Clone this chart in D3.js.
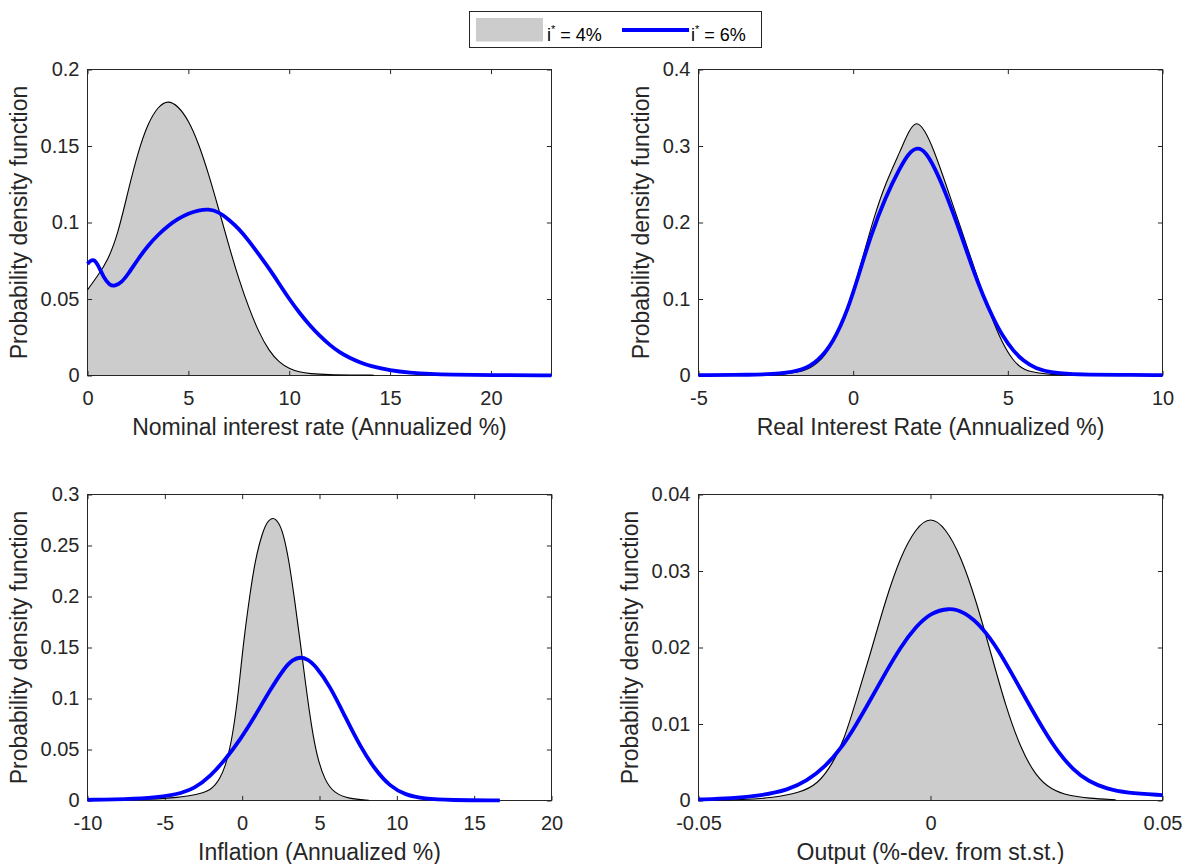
<!DOCTYPE html>
<html>
<head>
<meta charset="utf-8">
<script src="https://cdn.jsdelivr.net/npm/d3@7"></script>
<style>
  html, body { margin: 0; padding: 0; background: #fff; }
  svg { display: block; font-family: "Liberation Sans", Arial, Helvetica, sans-serif; }
</style>
</head>
<body>
<svg id="chart" width="1189" height="864"></svg>
<script>
// ---- Series labels ----
const seriesNames = ["4%", "6%"];

// ---- Nominal interest rate ----
const nomXLim = [0, 23];
const nomYLim = [0, 0.2];
const nomXTicks = [0, 5, 10, 15, 20];
const nomYTicks = [0, 0.05, 0.1, 0.15, 0.2];
const nomBaseX = [0, 0.5, 1.0, 1.5, 2.0, 2.5, 3.0, 3.5, 4.0, 4.5, 5.0, 5.5, 6.0, 6.5, 7.0, 7.5, 8.0, 8.5, 9.0, 9.5, 10.0, 10.5, 11.0, 12.0, 13.0, 14.2];
const nomBaseY = [0.056, 0.065, 0.075, 0.092, 0.120, 0.146, 0.165, 0.176, 0.180, 0.176, 0.167, 0.152, 0.132, 0.109, 0.085, 0.063, 0.044, 0.028, 0.016, 0.0085, 0.0045, 0.0022, 0.0012, 0.0005, 0.0003, 0.0002];
const nomAltX = [0, 0.15, 0.3, 0.5, 0.8, 1.1, 1.35, 1.7, 2.0, 2.5, 3.0, 3.5, 4.0, 4.5, 5.0, 5.5, 6.0, 6.5, 7.0, 7.5, 8.0, 8.5, 9.0, 9.5, 10.0, 10.5, 11.0, 11.5, 12.0, 12.5, 13.0, 13.5, 14.0, 15.0, 16.0, 17.0, 18.0, 20.0, 23.0];
const nomAltY = [0.073, 0.075, 0.076, 0.073, 0.064, 0.059, 0.0583, 0.061, 0.066, 0.076, 0.085, 0.092, 0.098, 0.1025, 0.106, 0.108, 0.1088, 0.107, 0.102, 0.096, 0.088, 0.079, 0.070, 0.060, 0.050, 0.041, 0.033, 0.026, 0.020, 0.015, 0.0115, 0.0085, 0.0062, 0.0033, 0.0018, 0.001, 0.0006, 0.0002, 0.0001];

// ---- Real interest rate ----
const realXLim = [-5, 10];
const realYLim = [0, 0.4];
const realXTicks = [-5, 0, 5, 10];
const realYTicks = [0, 0.1, 0.2, 0.3, 0.4];
const realBaseX = [-5, -3.5, -2.8, -2.35, -2.0, -1.62, -1.4, -1.14, -0.9, -0.65, -0.29, 0.08, 0.32, 0.68, 1.05, 1.53, 1.8, 2.04, 2.3, 2.6, 2.99, 3.35, 3.72, 4.08, 4.45, 4.81, 5.18, 5.45, 5.66, 6.0, 6.39, 7.0, 8.0, 10.0];
const realBaseY = [0.0001, 0.0003, 0.0007, 0.0013, 0.003, 0.0057, 0.0095, 0.0165, 0.027, 0.043, 0.077, 0.121, 0.156, 0.208, 0.252, 0.294, 0.320, 0.333, 0.322, 0.296, 0.251, 0.208, 0.164, 0.121, 0.078, 0.043, 0.0187, 0.0095, 0.0057, 0.003, 0.0013, 0.0005, 0.0002, 0.0001];
const realAltX = [-5, -3.3, -2.35, -1.62, -1.14, -0.65, -0.17, 0.2, 0.56, 1.05, 1.53, 1.8, 2.08, 2.35, 2.63, 3.0, 3.48, 3.84, 4.21, 4.5, 4.85, 5.18, 5.5, 5.9, 6.39, 7.0, 7.6, 8.5, 10.0];
const realAltY = [0.0004, 0.0009, 0.002, 0.007, 0.0187, 0.0426, 0.086, 0.134, 0.182, 0.234, 0.273, 0.291, 0.299, 0.292, 0.272, 0.238, 0.185, 0.142, 0.103, 0.077, 0.050, 0.032, 0.019, 0.009, 0.004, 0.0018, 0.0012, 0.0008, 0.0005];

// ---- Inflation ----
const infXLim = [-10, 20];
const infYLim = [0, 0.3];
const infXTicks = [-10, -5, 0, 5, 10, 15, 20];
const infYTicks = [0, 0.05, 0.1, 0.15, 0.2, 0.25, 0.3];
const infBaseX = [-10, -8, -6, -5, -4.25, -3.5, -3.0, -2.5, -2.07, -1.75, -1.46, -1.1, -0.73, -0.37, -0.13, 0.11, 0.48, 0.84, 1.33, 1.65, 2.0, 2.35, 2.66, 3.02, 3.39, 3.75, 4.12, 4.48, 4.84, 5.33, 5.94, 6.9, 8.19];
const infBaseY = [0.0003, 0.0007, 0.0013, 0.002, 0.003, 0.0045, 0.0058, 0.0078, 0.0105, 0.015, 0.021, 0.033, 0.054, 0.090, 0.123, 0.158, 0.200, 0.236, 0.264, 0.274, 0.278, 0.273, 0.262, 0.236, 0.197, 0.156, 0.112, 0.0725, 0.043, 0.020, 0.0072, 0.0016, 0.0002];
const infAltX = [-10, -8.37, -5.95, -4.25, -3.04, -2.07, -1.1, -0.13, 0.84, 1.81, 2.78, 3.27, 3.75, 4.24, 4.72, 5.69, 6.66, 7.63, 8.6, 9.57, 10.54, 11.76, 13.45, 16.66];
const infAltY = [0.0007, 0.001, 0.0023, 0.0056, 0.0121, 0.0235, 0.040, 0.0595, 0.083, 0.1085, 0.131, 0.138, 0.1408, 0.1385, 0.1325, 0.112, 0.082, 0.053, 0.030, 0.0137, 0.0056, 0.0016, 0.0003, 0.0001];

// ---- Output ----
const outXLim = [-0.05, 0.05];
const outYLim = [0, 0.04];
const outXTicks = [-0.05, 0, 0.05];
const outYTicks = [0, 0.01, 0.02, 0.03, 0.04];
const outBaseX = [-0.05, -0.04, -0.034, -0.0283, -0.0243, -0.021, -0.0186, -0.0162, -0.0129, -0.0097, -0.0064, -0.0032, 0.0, 0.0033, 0.0065, 0.0098, 0.013, 0.0162, 0.0195, 0.0227, 0.026, 0.03, 0.034, 0.0399];
const outBaseY = [0.00002, 0.0001, 0.00035, 0.001, 0.0021, 0.0049, 0.0080, 0.0127, 0.0193, 0.0262, 0.0320, 0.0356, 0.0372, 0.0356, 0.0320, 0.0262, 0.0193, 0.0123, 0.0067, 0.0032, 0.0014, 0.0006, 0.0003, 0.0001];
const outAltX = [-0.05, -0.0429, -0.0364, -0.0307, -0.0267, -0.0226, -0.0194, -0.0162, -0.0129, -0.0097, -0.0064, -0.0032, 0.0, 0.0039, 0.0073, 0.0114, 0.0146, 0.0179, 0.0211, 0.0243, 0.0276, 0.0308, 0.034, 0.0381, 0.0421, 0.05];
const outAltY = [0.00013, 0.00026, 0.00065, 0.0014, 0.0025, 0.0045, 0.0067, 0.0097, 0.0132, 0.0167, 0.0201, 0.0227, 0.0245, 0.0252, 0.0247, 0.0225, 0.0197, 0.0162, 0.0127, 0.0093, 0.0062, 0.004, 0.0025, 0.0015, 0.001, 0.0007];

const yTitle = "Probability density function";
const xTitles = ["Nominal interest rate (Annualized %)", "Real Interest Rate (Annualized %)", "Inflation (Annualized %)", "Output (%-dev. from st.st.)"];

// ---- Styling ----
const INK = "#262626";
const FILL = "#cccccc";
const BLUE = "#0000ff";
const TICK_FONT = 20;
const LABEL_FONT = 23;
const LEGEND_FONT = 18;
const TICK_LEN = 4.6;

const zip = (xs, ys) => xs.map((x, i) => [x, ys[i]]);

const panels = [
  { box: [87.5, 69.5, 464, 306], xLim: nomXLim, yLim: nomYLim, xTicks: nomXTicks, yTicks: nomYTicks,
    base: zip(nomBaseX, nomBaseY), alt: zip(nomAltX, nomAltY), xTitle: xTitles[0] },
  { box: [698.5, 69.5, 464, 306], xLim: realXLim, yLim: realYLim, xTicks: realXTicks, yTicks: realYTicks,
    base: zip(realBaseX, realBaseY), alt: zip(realAltX, realAltY), xTitle: xTitles[1] },
  { box: [87.5, 494.5, 464, 306], xLim: infXLim, yLim: infYLim, xTicks: infXTicks, yTicks: infYTicks,
    base: zip(infBaseX, infBaseY), alt: zip(infAltX, infAltY), xTitle: xTitles[2] },
  { box: [698.5, 494.5, 464, 306], xLim: outXLim, yLim: outYLim, xTicks: outXTicks, yTicks: outYTicks,
    base: zip(outBaseX, outBaseY), alt: zip(outAltX, outAltY), xTitle: xTitles[3] }
];

const fmt = d => String(+d.toFixed(6));
const svg = d3.select("#chart");
const smooth = d3.curveBasis;

function styleAxis(g) {
  g.attr("font-family", null).attr("font-size", null);
  g.select(".domain").remove();
  g.selectAll(".tick line").attr("stroke", INK).attr("stroke-width", 1);
  g.selectAll(".tick text").attr("fill", INK).attr("font-size", TICK_FONT);
}

panels.forEach(p => {
  const [L, T, W, H] = p.box;
  const x = d3.scaleLinear().domain(p.xLim).range([0, W]);
  const y = d3.scaleLinear().domain(p.yLim).range([H, 0]);
  const g = svg.append("g").attr("transform", `translate(${L},${T})`);

  // shaded density (base case)
  const area = d3.area().x(d => x(d[0])).y0(y(0)).y1(d => y(d[1])).curve(smooth);
  g.append("path").datum(p.base).attr("d", area).attr("fill", FILL).attr("stroke", "none");

  // axes: labelled bottom/left, bare ticks top/right
  g.append("g").attr("transform", `translate(0,${H})`)
    .call(d3.axisBottom(x).tickValues(p.xTicks).tickFormat(fmt).tickSizeInner(-TICK_LEN).tickSizeOuter(0).tickPadding(15))
    .call(styleAxis);
  g.append("g")
    .call(d3.axisTop(x).tickValues(p.xTicks).tickFormat("").tickSizeInner(-TICK_LEN).tickSizeOuter(0))
    .call(styleAxis);
  const yAxisG = g.append("g")
    .call(d3.axisLeft(y).tickValues(p.yTicks).tickFormat(fmt).tickSizeInner(-TICK_LEN).tickSizeOuter(0).tickPadding(8))
    .call(styleAxis);
  g.append("g").attr("transform", `translate(${W},0)`)
    .call(d3.axisRight(y).tickValues(p.yTicks).tickFormat("").tickSizeInner(-TICK_LEN).tickSizeOuter(0))
    .call(styleAxis);

  g.append("rect").attr("x", 0).attr("y", 0).attr("width", W).attr("height", H)
    .attr("fill", "none").attr("stroke", INK).attr("stroke-width", 1);

  // outline of the shaded density
  const line = d3.line().x(d => x(d[0])).y(d => y(d[1])).curve(smooth);
  g.append("path").datum(p.base).attr("d", line).attr("fill", "none").attr("stroke", "#000").attr("stroke-width", 1.1);

  // alternative target density
  g.append("path").datum(p.alt).attr("d", line).attr("fill", "none").attr("stroke", BLUE)
    .attr("stroke-width", 3.8).attr("stroke-linejoin", "round");

  // axis titles
  let maxW = 0;
  yAxisG.selectAll(".tick text").each(function () { maxW = Math.max(maxW, this.getComputedTextLength()); });
  g.append("text").attr("transform", `translate(${-8 - maxW - 13.5},${H / 2}) rotate(-90)`)
    .attr("text-anchor", "middle").attr("fill", INK).attr("font-size", LABEL_FONT).text(yTitle);
  g.append("text").attr("x", W / 2).attr("y", H + 59)
    .attr("text-anchor", "middle").attr("fill", INK).attr("font-size", LABEL_FONT).text(p.xTitle);
});

// ---- Legend ----
const leg = svg.append("g");
leg.append("rect").attr("x", 469.5).attr("y", 11.5).attr("width", 292).attr("height", 36)
  .attr("fill", "#fff").attr("stroke", INK).attr("stroke-width", 1);
leg.append("rect").attr("x", 476).attr("y", 18).attr("width", 67).attr("height", 23.5).attr("fill", FILL);
leg.append("line").attr("x1", 622).attr("x2", 689).attr("y1", 30).attr("y2", 30)
  .attr("stroke", BLUE).attr("stroke-width", 3.8);
[[547, seriesNames[0]], [691, seriesNames[1]]].forEach(([lx, name]) => {
  const t = leg.append("text").attr("x", lx).attr("y", 40.5).attr("fill", "#000").attr("font-size", LEGEND_FONT);
  t.append("tspan").text("i");
  t.append("tspan").attr("dy", -8).attr("font-size", 11).text("*");
  t.append("tspan").attr("dy", 8).text(" = " + name);
});
</script>
</body>
</html>
